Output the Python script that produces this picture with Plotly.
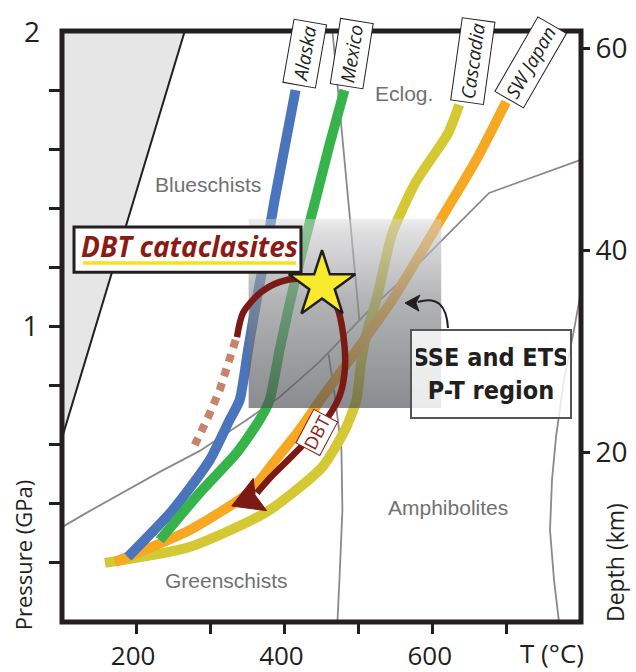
import plotly.graph_objects as go

# ---------------- data (T in degC, P in GPa) ----------------
alaska_T = [188.8, 249.4, 299.2, 326.1, 339.6, 350.9, 362.5, 375.1, 386.7, 415.0]
alaska_P = [0.220, 0.379, 0.548, 0.684, 0.751, 0.920, 1.090, 1.259, 1.428, 1.800]

mexico_T = [231.9, 285.7, 335.6, 366.5, 380.0, 393.4, 408.2, 424.4, 441.9, 460.7, 480.9]
mexico_P = [0.277, 0.437, 0.572, 0.684, 0.751, 0.920, 1.090, 1.259, 1.428, 1.614, 1.800]

cascadia_T = [157.9, 272.3, 375.9, 451.3, 483.6, 497.1, 503.8, 511.9, 524.0, 545.5, 576.5, 620.9, 635.7]
cascadia_P = [0.200, 0.254, 0.372, 0.525, 0.660, 0.751, 0.887, 0.988, 1.090, 1.316, 1.486, 1.655, 1.750]

swjapan_T = [171.3, 272.3, 353.0, 393.4, 420.3, 451.3, 545.5, 608.8, 658.6, 699.0]
swjapan_P = [0.203, 0.311, 0.440, 0.565, 0.650, 0.761, 1.090, 1.354, 1.563, 1.760]

dbt_T = [336.0, 344.1, 367.0, 394.0, 421.0, 450.7, 470.9, 479.0, 481.7, 474.9, 461.5, 441.2, 421.0, 400.8, 380.5, 363.0]
dbt_P = [0.964, 1.046, 1.113, 1.151, 1.161, 1.140, 1.066, 0.978, 0.863, 0.768, 0.704, 0.643, 0.589, 0.538, 0.487, 0.437]

dbt_head_T = [328.9, 358.0, 360.3, 376.1, 328.9]
dbt_head_P = [0.3925, 0.4863, 0.4298, 0.3766, 0.3925]

dotted_T = [334.2, 323.4, 312.7, 296.5, 279.0]
dotted_P = [0.954, 0.870, 0.785, 0.690, 0.599]

star_T = [450.7]
star_P = [1.140]

# facies boundaries
zeolite_T = [100.0, 265.6]
zeolite_P = [0.623, 2.000]

bs_gs_T = [100.0, 137.7, 231.9, 285.7, 349.0, 393.4, 447.3, 514.6, 572.4, 676.1, 798.6]
bs_gs_P = [0.321, 0.376, 0.508, 0.579, 0.684, 0.761, 0.880, 1.056, 1.191, 1.452, 1.563]

eclog_T = [464.8, 501.1]
eclog_P = [2.000, 1.022]

gs_amph_T = [459.4, 468.8, 476.9, 478.2, 474.2, 471.5]
gs_amph_P = [0.907, 0.751, 0.582, 0.379, 0.142, 0.000]

amph_right_T = [798.6, 790.5, 777.0, 766.3, 760.9, 758.2, 763.6, 770.3]
amph_right_P = [1.100, 0.988, 0.819, 0.626, 0.481, 0.311, 0.142, 0.000]

# SSE / ETS P-T region
sse_T = [351.7, 611.5]
sse_P = [0.724, 1.364]

facies_names = ["Blueschists", "Eclog.", "Amphibolites", "Greenschists"]
facies_T = [296.9, 561.3, 620.6, 322.5]
facies_P = [1.482, 1.790, 0.389, 0.139]

margin_names = ["Alaska", "Mexico", "Cascadia", "SW Japan"]
margin_T = [427.7, 491.1, 654.3, 732.5]
margin_P = [1.925, 1.925, 1.898, 1.895]
margin_angle = [-80, -81, -82, -60]

x_ticks = [200, 300, 400, 500, 600, 700]
x_ticktext = ["200", "", "400", "", "600", ""]
y_ticks = [0.2, 0.4, 0.6, 0.8, 1.0, 1.2, 1.4, 1.6, 1.8]
y_ticktext = ["", "", "", "", "1", "", "", "", ""]
depth_ticks = [20, 40, 60]

# ---------------- figure ----------------
INK = "#231f20"
GRAY = "#8a8a8a"
TICKFONT = dict(family="Open Sans, Liberation Sans, sans-serif", size=28, color=INK)
XTICKFONT = dict(family="Open Sans, Liberation Sans, sans-serif", size=26, color=INK)
LABFONT = dict(family="Liberation Sans, Arial, sans-serif", size=21, color="#717171")

fig = go.Figure()

# light gray zeolite-facies region
fig.add_trace(go.Scatter(x=[zeolite_T[0], zeolite_T[1], 100, zeolite_T[0]],
                         y=[zeolite_P[0], zeolite_P[1], 2.0, zeolite_P[0]],
                         fill="toself", fillcolor="#e6e6e6", mode="lines",
                         line=dict(width=0), hoverinfo="skip", showlegend=False))
fig.add_trace(go.Scatter(x=zeolite_T, y=zeolite_P, mode="lines",
                         line=dict(color=INK, width=2), showlegend=False))

for tx, ty in [(bs_gs_T, bs_gs_P), (eclog_T, eclog_P), (gs_amph_T, gs_amph_P), (amph_right_T, amph_right_P)]:
    fig.add_trace(go.Scatter(x=tx, y=ty, mode="lines", line=dict(color=GRAY, width=1.8),
                             showlegend=False))

# subduction P-T paths
for tx, ty, col in [(cascadia_T, cascadia_P, "#d4c933"),
                    (swjapan_T, swjapan_P, "#f7a823"),
                    (alaska_T, alaska_P, "#4a75bd"),
                    (mexico_T, mexico_P, "#36b34b")]:
    fig.add_trace(go.Scatter(x=tx, y=ty, mode="lines", line=dict(color=col, width=10, shape="spline", smoothing=0.6),
                             showlegend=False))

# SSE/ETS gradient box
fig.add_trace(go.Scatter(x=[sse_T[0], sse_T[1], sse_T[1], sse_T[0], sse_T[0]],
                         y=[sse_P[0], sse_P[0], sse_P[1], sse_P[1], sse_P[0]],
                         mode="lines", line=dict(width=0), fill="toself",
                         fillgradient=dict(type="vertical",
                                           colorscale=[[0.0, "rgba(78,80,85,0.66)"],
                                                       [0.22, "rgba(101,103,107,0.66)"],
                                                       [0.57, "rgba(140,141,144,0.66)"],
                                                       [0.93, "rgba(200,200,202,0.6)"],
                                                       [1.0, "rgba(215,215,217,0.45)"]]),
                         hoverinfo="skip", showlegend=False))

# dotted extension and DBT path
fig.add_trace(go.Scatter(x=dotted_T, y=dotted_P, mode="lines",
                         line=dict(color="#c8836c", width=8, dash="8px,7px"), showlegend=False))
fig.add_trace(go.Scatter(x=dbt_T, y=dbt_P, mode="lines",
                         line=dict(color="#7b1a15", width=6.5, shape="spline", smoothing=0.8), showlegend=False))
fig.add_trace(go.Scatter(x=dbt_head_T, y=dbt_head_P, mode="lines", fill="toself",
                         fillcolor="#7b1a15", line=dict(color="#7b1a15", width=1), showlegend=False))
fig.add_trace(go.Scatter(x=star_T, y=star_P, mode="markers",
                         marker=dict(symbol="star", size=50, color="#f8ea2c",
                                     line=dict(color=INK, width=2.5)), showlegend=False))

# invisible trace for depth axis
fig.add_trace(go.Scatter(x=[100], y=[10], yaxis="y2", mode="markers",
                         marker=dict(opacity=0), showlegend=False, hoverinfo="skip"))

# facies labels
for n, t, p in zip(facies_names, facies_T, facies_P):
    fig.add_annotation(x=t, y=p, text=n, showarrow=False, font=LABFONT)

# margin labels
for n, t, p, a in zip(margin_names, margin_T, margin_P, margin_angle):
    fig.add_annotation(x=t, y=p, text=n, showarrow=False, textangle=a,
                       font=dict(family="Open Sans, sans-serif", size=19, color=INK, style="italic"),
                       bgcolor="white", bordercolor=INK, borderwidth=1, borderpad=3)

# DBT small label
fig.add_annotation(x=443.9, y=0.643, text="DBT", showarrow=False, textangle=-62,
                   font=dict(family="Open Sans, sans-serif", size=18, color="#8c1c13"),
                   bgcolor="white", bordercolor="#8c1c13", borderwidth=1, borderpad=1)

# DBT cataclasites box
fig.add_shape(type="rect", x0=116.2, x1=422.3, y0=1.184, y1=1.337,
              fillcolor="white", line=dict(color=INK, width=3), layer="above")
fig.add_shape(type="line", x0=128.3, x1=415.6, y0=1.215, y1=1.215,
              line=dict(color="#f5e21a", width=3.5), layer="above")
fig.add_annotation(x=272.6, y=1.274, text="<b><i>DBT cataclasites</i></b>", showarrow=False,
                   font=dict(family="Open Sans, sans-serif", size=28, color="#8c1c13"))

# SSE and ETS box
fig.add_annotation(x=678.6, y=0.839, text="<b>SSE and ETS<br>P-T region</b>", showarrow=False,
                   font=dict(family="DejaVu Sans Condensed, sans-serif", size=25, color=INK),
                   bgcolor="rgba(255,255,255,0.82)", bordercolor="#555555", borderwidth=2,
                   borderpad=4, width=150, height=78)
fig.add_shape(type="path", xref="x", yref="y",
              path="M 620.6,0.995 Q 617.9,1.113 580.1,1.083",
              line=dict(color=INK, width=2), layer="above")
fig.add_shape(type="path", xref="x", yref="y",
              path="M 562.6,1.0795 L 582.8,1.1066 L 577.4,1.0795 L 581.5,1.052 Z",
              fillcolor=INK, line=dict(color=INK, width=1), layer="above")

# frame
fig.add_shape(type="rect", xref="paper", yref="paper", x0=0, x1=1, y0=0, y1=1,
              line=dict(color=INK, width=5), layer="above")

# axis titles / extra labels
fig.add_annotation(xref="paper", yref="paper", x=0.944, y=-0.053, text="T (°C)", showarrow=False,
                   font=XTICKFONT, xanchor="center", yanchor="middle")
fig.add_annotation(xref="paper", yref="paper", x=-0.058, y=1.0, text="2", showarrow=False,
                   font=TICKFONT, xanchor="center", yanchor="middle")
fig.add_annotation(xref="paper", yref="paper", x=-0.075, y=0.113, text="Pressure (GPa)", showarrow=False,
                   textangle=-90, xanchor="center", yanchor="middle",
                   font=dict(family="Open Sans, sans-serif", size=22, color=INK))
fig.add_annotation(xref="paper", yref="paper", x=1.0655, y=0.1015, text="Depth (km)", showarrow=False,
                   textangle=-90, xanchor="center", yanchor="middle",
                   font=dict(family="Open Sans, sans-serif", size=23, color=INK))

fig.update_layout(
    width=636, height=672,
    margin=dict(l=62, r=55, t=31, b=50, autoexpand=False),
    paper_bgcolor="white", plot_bgcolor="white",
    showlegend=False,
    xaxis=dict(range=[100, 800], showgrid=False, zeroline=False, showline=False, automargin=False,
               ticks="outside", ticklen=11, tickwidth=3, tickcolor=INK, ticklabelshift=-3,
               tickvals=x_ticks, ticktext=x_ticktext, tickfont=XTICKFONT),
    yaxis=dict(range=[0, 2], showgrid=False, zeroline=False, showline=False, automargin=False,
               ticks="outside", ticklen=12, tickwidth=2.5, tickcolor=INK, ticklabelstandoff=5,
               tickvals=y_ticks, ticktext=y_ticktext, tickfont=TICKFONT),
    yaxis2=dict(range=[3.2, 61.7], overlaying="y", side="right", showgrid=False, zeroline=False,
                showline=False, automargin=False, ticks="outside", ticklen=8, tickwidth=3, tickcolor=INK,
                tickvals=depth_ticks, tickfont=TICKFONT),
)

fig.write_html("out.html", config={"displayModeBar": False},
               post_script="document.body.style.margin='0px';document.body.style.padding='0px';"
                           "document.body.style.overflow='hidden';")
